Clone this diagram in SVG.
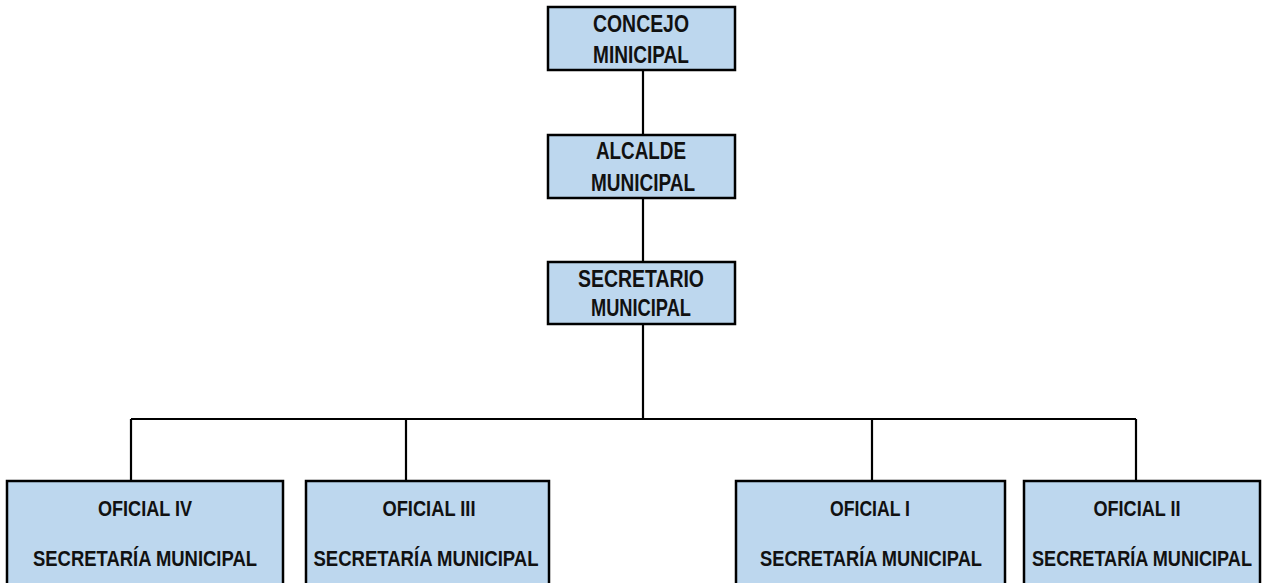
<svg xmlns="http://www.w3.org/2000/svg" width="1269" height="583" viewBox="0 0 1269 583">
<style>
.box{fill:#bdd7ee;stroke:#000;stroke-width:2.5}
.t{font-family:"Liberation Sans Narrow","Liberation Sans",Arial,sans-serif;font-weight:bold;fill:#111;text-anchor:middle}
.big{font-size:24px}
.sm{font-size:22px}
.ln{fill:none;stroke:#000;stroke-width:2.2}
</style>
<rect width="1269" height="583" fill="#fff"/>
<g id="connectors">
<path class="ln" d="M643,70 V135 M643,198 V262 M643,324 V419 M131,419 H1136 M131,419 V481 M406,419 V481 M872,419 V481 M1136,419 V481"/>
</g>
<g id="concejo">
<rect class="box" x="548" y="7" width="187" height="63"/>
<text class="t big" x="641" y="32" textLength="96" lengthAdjust="spacingAndGlyphs">CONCEJO</text>
<text class="t big" x="641" y="63" textLength="96" lengthAdjust="spacingAndGlyphs">MINICIPAL</text>
</g>
<g id="alcalde">
<rect class="box" x="548" y="135" width="187" height="63"/>
<text class="t big" x="641" y="159" textLength="90" lengthAdjust="spacingAndGlyphs">ALCALDE</text>
<text class="t big" x="643" y="191" textLength="104" lengthAdjust="spacingAndGlyphs">MUNICIPAL</text>
</g>
<g id="secretario">
<rect class="box" x="548" y="262" width="187" height="62"/>
<text class="t big" x="641" y="287" textLength="126" lengthAdjust="spacingAndGlyphs">SECRETARIO</text>
<text class="t big" x="641" y="316" textLength="100" lengthAdjust="spacingAndGlyphs">MUNICIPAL</text>
</g>
<g id="oficial-iv">
<rect class="box" x="7" y="481" width="276" height="130"/>
<text class="t sm" x="145" y="516" textLength="94" lengthAdjust="spacingAndGlyphs">OFICIAL IV</text>
<text class="t sm" x="145" y="566" textLength="224" lengthAdjust="spacingAndGlyphs">SECRETARÍA MUNICIPAL</text>
</g>
<g id="oficial-iii">
<rect class="box" x="306" y="481" width="243" height="130"/>
<text class="t sm" x="429" y="516" textLength="93" lengthAdjust="spacingAndGlyphs">OFICIAL III</text>
<text class="t sm" x="426" y="566" textLength="225" lengthAdjust="spacingAndGlyphs">SECRETARÍA MUNICIPAL</text>
</g>
<g id="oficial-i">
<rect class="box" x="736" y="481" width="269" height="130"/>
<text class="t sm" x="870" y="516" textLength="80" lengthAdjust="spacingAndGlyphs">OFICIAL I</text>
<text class="t sm" x="871" y="566" textLength="222" lengthAdjust="spacingAndGlyphs">SECRETARÍA MUNICIPAL</text>
</g>
<g id="oficial-ii">
<rect class="box" x="1024" y="481" width="236" height="130"/>
<text class="t sm" x="1137" y="516" textLength="87" lengthAdjust="spacingAndGlyphs">OFICIAL II</text>
<text class="t sm" x="1142" y="566" textLength="220" lengthAdjust="spacingAndGlyphs">SECRETARÍA MUNICIPAL</text>
</g>
</svg>
